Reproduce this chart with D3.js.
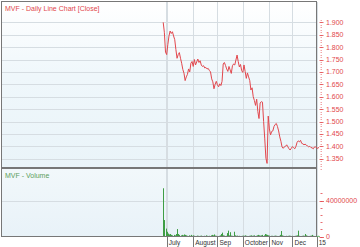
<!DOCTYPE html>
<html>
<head>
<meta charset="utf-8">
<script src="https://cdn.jsdelivr.net/npm/d3@7"></script>
<style>
  body { margin: 0; background: #fff; }
  svg { display: block; }
</style>
</head>
<body>
<div id="chart"></div>
<script>
// one close per trading day, starting 26 Jun 2014 (listing)
var closes = [
  1.900, 1.860, 1.780, 1.770, 1.810, 1.845, 1.865, 1.855, 1.862, 1.845,
  1.830, 1.790, 1.755, 1.770, 1.778, 1.755, 1.735, 1.710, 1.695, 1.665,
  1.680, 1.690, 1.712, 1.700, 1.735, 1.742, 1.722, 1.750, 1.728, 1.740,
  1.752, 1.738, 1.745, 1.728, 1.722, 1.725, 1.716, 1.718, 1.712, 1.714,
  1.706, 1.700, 1.672, 1.660, 1.632, 1.650, 1.662, 1.648, 1.640, 1.652,
  1.645, 1.662, 1.732, 1.738, 1.726, 1.712, 1.702, 1.722, 1.708, 1.694,
  1.725, 1.732, 1.728, 1.748, 1.768, 1.742, 1.720, 1.730, 1.705, 1.698,
  1.728, 1.702, 1.674, 1.696, 1.680, 1.665, 1.627, 1.636, 1.600, 1.585,
  1.565, 1.590, 1.540, 1.512, 1.575, 1.580, 1.578, 1.500, 1.430, 1.352,
  1.331, 1.522, 1.470, 1.446, 1.460, 1.462, 1.480, 1.488, 1.492, 1.480,
  1.462, 1.438, 1.420, 1.397, 1.392, 1.398, 1.400, 1.406, 1.398, 1.390,
  1.385, 1.392, 1.399, 1.394, 1.390, 1.400, 1.416, 1.422, 1.418, 1.424,
  1.412, 1.410, 1.406, 1.409, 1.404, 1.402, 1.398, 1.400, 1.395, 1.394,
  1.390, 1.397, 1.398, 1.393, 1.392, 1.396
];

// daily volume, millions of shares
var volumes = [
  53.8, 18.5, 9.0, 5.5, 3.5, 2.5, 3.0, 2.0, 1.5, 2.0,
  1.5, 3.0, 8.5, 3.0, 2.0, 1.5, 2.0, 1.5, 2.5, 2.0,
  1.5, 1.0, 1.5, 1.0, 2.0, 1.0, 1.5, 1.0, 0.8, 1.2,
  1.0, 0.8, 1.0, 1.2, 0.8, 1.0, 0.8, 1.5, 1.0, 0.8,
  1.0, 1.5, 2.0, 1.5, 2.5, 1.2, 1.0, 0.8, 1.0, 1.5,
  3.0, 4.5, 1.5, 1.2, 1.0, 4.0, 6.7, 1.5, 5.0, 1.2,
  1.0, 5.5, 1.5, 1.0, 1.2, 0.8, 1.0, 0.8, 1.0, 1.2,
  1.0, 1.5, 1.0, 0.8, 1.0, 1.2, 1.5, 1.0, 1.2, 1.5,
  1.0, 1.5, 2.0, 1.5, 1.2, 1.5, 2.0, 1.5, 3.0, 2.5,
  2.0, 1.5, 1.2, 1.0, 1.0, 0.8, 1.0, 1.2, 1.0, 0.8,
  1.0, 2.0, 6.3, 1.5, 1.0, 0.8, 1.0, 0.8, 1.0, 1.2,
  1.0, 0.8, 1.0, 0.8, 1.0, 1.2, 1.5, 6.7, 1.0, 0.8,
  1.0, 1.2, 1.0, 3.0, 1.5, 1.0, 0.8, 1.0, 1.2, 2.0,
  1.0, 0.8, 1.0, 0.8, 1.0, 0.8
];

// x axis: month labels and the trading-day index where each month starts
var monthLabels = ["July", "August", "Sep", "October", "Nov", "Dec", "15"];
var monthStart = [3, 26, 47, 69, 92, 112, 133];

var priceTicks = [1.35, 1.40, 1.45, 1.50, 1.55, 1.60, 1.65, 1.70, 1.75, 1.80, 1.85, 1.90];
var volTicks = [0, 40000000];

var W = 360, H = 247;
var plotL = 2, plotR = 316;
var priceTop = 2, priceBot = 168;
var volTop = 169, volBot = 237;

var red = "#e2474d";
var green = "#3f9e45";
var gridCol = "#d6dde2";
var frameCol = "#777";

var svg = d3.select("#chart").append("svg")
  .attr("width", W)
  .attr("height", H)
  .attr("font-family", "'Liberation Sans', Arial, sans-serif");

var defs = svg.append("defs");
var g1 = defs.append("linearGradient").attr("id", "bgPrice")
  .attr("x1", 0).attr("y1", 0).attr("x2", 0).attr("y2", 1);
g1.append("stop").attr("offset", "0%").attr("stop-color", "#ffffff");
g1.append("stop").attr("offset", "45%").attr("stop-color", "#eff7fb");
g1.append("stop").attr("offset", "100%").attr("stop-color", "#eaf4f9");
var g2 = defs.append("linearGradient").attr("id", "bgVol")
  .attr("x1", 0).attr("y1", 0).attr("x2", 0).attr("y2", 1);
g2.append("stop").attr("offset", "0%").attr("stop-color", "#f2f8fb");
g2.append("stop").attr("offset", "100%").attr("stop-color", "#e8f2f8");

// scales
var x = d3.scaleLinear().domain([0, 133]).range([163.2, 316.7]);
var y = d3.scaleLinear().domain([1.3125, 1.982]).range([priceBot, priceTop]);
var yv = d3.scaleLinear().domain([0, 75.2e6]).range([236.7, volTop]);

function px(v) { return Math.round(v) + 0.5; }

// panel backgrounds
svg.append("rect").attr("x", plotL).attr("y", priceTop)
  .attr("width", plotR - plotL).attr("height", priceBot - priceTop)
  .attr("fill", "url(#bgPrice)");
svg.append("rect").attr("x", plotL).attr("y", volTop)
  .attr("width", plotR - plotL).attr("height", volBot - volTop)
  .attr("fill", "url(#bgVol)");

// horizontal grid
svg.append("g").selectAll("line").data(priceTicks).enter().append("line")
  .attr("x1", plotL).attr("x2", plotR)
  .attr("y1", d => px(y(d))).attr("y2", d => px(y(d)))
  .attr("stroke", gridCol);
svg.append("g").selectAll("line").data(volTicks.slice(1)).enter().append("line")
  .attr("x1", plotL).attr("x2", plotR)
  .attr("y1", d => px(yv(d))).attr("y2", d => px(yv(d)))
  .attr("stroke", gridCol);

// vertical grid at month starts (plus listing day)
var vlines = [2].concat(monthStart);
svg.append("g").selectAll("line").data(vlines).enter().append("line")
  .attr("x1", d => px(x(d))).attr("x2", d => px(x(d)))
  .attr("y1", priceTop).attr("y2", volBot)
  .attr("stroke", gridCol);

// panel frames
svg.append("rect").attr("x", plotL - 0.5).attr("y", priceTop - 0.5)
  .attr("width", plotR - plotL + 1).attr("height", priceBot - priceTop)
  .attr("fill", "none").attr("stroke", frameCol);
svg.append("rect").attr("x", plotL - 0.5).attr("y", volTop - 0.5)
  .attr("width", plotR - plotL + 1).attr("height", volBot - volTop)
  .attr("fill", "none").attr("stroke", frameCol);

// volume bars
svg.append("g").selectAll("line").data(volumes).enter().append("line")
  .attr("x1", (d, i) => px(x(i))).attr("x2", (d, i) => px(x(i)))
  .attr("y1", yv(0)).attr("y2", d => yv(d * 1e6))
  .attr("stroke", green).attr("stroke-width", 1);

// close line
var line = d3.line()
  .x((d, i) => x(i))
  .y(d => y(d));
svg.append("path").datum(closes)
  .attr("d", line)
  .attr("fill", "none")
  .attr("stroke", red)
  .attr("stroke-width", 1)
  .attr("stroke-linejoin", "round");

// titles
svg.append("text").attr("x", 5).attr("y", 10.5)
  .attr("font-size", 7).attr("fill", red)
  .text("MVF - Daily Line Chart [Close]");
svg.append("text").attr("x", 5).attr("y", 177.5)
  .attr("font-size", 7).attr("fill", "#5c9e5c")
  .text("MVF - Volume");

// right price axis: minor ticks every 0.01, major every 0.05
var axX = 321;
var minor = d3.range(131, 192).map(d => d / 100);
svg.append("g").selectAll("line").data(minor).enter().append("line")
  .attr("x1", axX - 0.5).attr("x2", axX + 1)
  .attr("y1", d => px(y(d))).attr("y2", d => px(y(d)))
  .attr("stroke", "#ec8f93").attr("stroke-width", 0.8);
svg.append("g").selectAll("line").data(priceTicks).enter().append("line")
  .attr("x1", axX - 1.5).attr("x2", axX + 2.5)
  .attr("y1", d => px(y(d))).attr("y2", d => px(y(d)))
  .attr("stroke", red).attr("stroke-width", 0.8);
svg.append("g").selectAll("text").data(priceTicks).enter().append("text")
  .attr("x", axX + 5).attr("y", d => y(d) + 2.5)
  .attr("font-size", 7).attr("fill", red)
  .text(d => d3.format(".3f")(d));

// right volume axis
var volMinor = d3.range(0, 49e6, 8e6);
svg.append("g").selectAll("line").data(volMinor).enter().append("line")
  .attr("x1", axX - 0.5).attr("x2", axX + 1.5)
  .attr("y1", d => px(yv(d))).attr("y2", d => px(yv(d)))
  .attr("stroke", red).attr("stroke-width", 0.8);
svg.append("g").selectAll("line").data(volTicks).enter().append("line")
  .attr("x1", axX - 1.5).attr("x2", axX + 3)
  .attr("y1", d => px(yv(d))).attr("y2", d => px(yv(d)))
  .attr("stroke", red).attr("stroke-width", 0.8);
svg.append("g").selectAll("text").data(volTicks).enter().append("text")
  .attr("x", axX + 5).attr("y", d => yv(d) + 2.5)
  .attr("font-size", 7).attr("fill", red)
  .text(d => d3.format("d")(d));

// x axis month boxes
var xa = svg.append("g");
xa.append("line").attr("x1", plotL - 0.5).attr("x2", plotR + 0.5)
  .attr("y1", volBot - 0.5).attr("y2", volBot - 0.5).attr("stroke", frameCol);
xa.selectAll("line.tk").data(monthStart).enter().append("line")
  .attr("class", "tk")
  .attr("x1", d => px(x(d))).attr("x2", d => px(x(d)))
  .attr("y1", volBot).attr("y2", H)
  .attr("stroke", frameCol);
xa.selectAll("text").data(monthLabels).enter().append("text")
  .attr("x", (d, i) => x(monthStart[i]) + 2)
  .attr("y", 245)
  .attr("font-size", 6.5).attr("fill", "#333")
  .text(d => d);
</script>
</body>
</html>
